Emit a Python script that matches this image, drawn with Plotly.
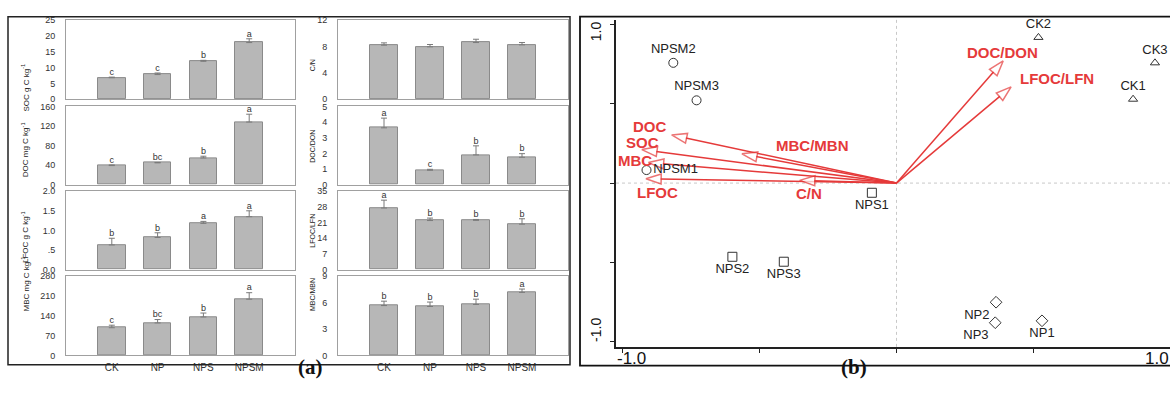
import plotly.graph_objects as go

W, H = 1170, 397

# ---------------- data: panel (a) ----------------
treatments = ["CK", "NP", "NPS", "NPSM"]

soc = [6.8, 7.8, 12.0, 17.9]
soc_err = [0.2, 0.5, 0.3, 1.2]
soc_sig = ["c", "c", "b", "a"]

doc = [39.0, 44.6, 54.6, 128.0]
doc_err = [1.2, 0.8, 3.5, 16.0]
doc_sig = ["c", "bc", "b", "a"]

lfoc = [0.63, 0.82, 1.18, 1.35]
lfoc_err = [0.17, 0.12, 0.05, 0.15]
lfoc_sig = ["b", "b", "a", "a"]

mbc = [98.0, 115.0, 136.0, 199.0]
mbc_err = [9.0, 12.0, 14.0, 23.0]
mbc_sig = ["c", "bc", "b", "a"]

cn = [8.2, 7.95, 8.6, 8.25]
cn_err = [0.35, 0.35, 0.5, 0.35]
cn_sig = None

docdon = [3.63, 0.92, 1.9, 1.75]
docdon_err = [0.62, 0.06, 0.58, 0.23]
docdon_sig = ["a", "c", "b", "b"]

lfoclfn = [27.5, 21.9, 22.0, 20.3]
lfoclfn_err = [3.5, 1.1, 0.4, 2.4]
lfoclfn_sig = ["a", "b", "b", "b"]

mbcmbn = [5.67, 5.57, 5.8, 7.17]
mbcmbn_err = [0.5, 0.5, 0.6, 0.38]
mbcmbn_sig = ["b", "b", "b", "a"]

soc_ticks = [0, 5, 10, 15, 20, 25]
doc_ticks = [0, 40, 80, 120, 160]
lfoc_ticks = [0, 0.5, 1.0, 1.5, 2.0]
lfoc_ticktext = ["0.0", ".5", "1.0", "1.5", "2.0"]
mbc_ticks = [0, 70, 140, 210, 280]
cn_ticks = [0, 4, 8, 12]
docdon_ticks = [0, 1, 2, 3, 4, 5]
lfoclfn_ticks = [0, 7, 14, 21, 28, 35]
mbcmbn_ticks = [0, 3, 6, 9]

# ---------------- data: panel (b) ----------------
samples = ["NPSM1", "NPSM2", "NPSM3", "NPS1", "NPS2", "NPS3",
           "CK1", "CK2", "CK3", "NP1", "NP2", "NP3"]
sample_group = ["NPSM", "NPSM", "NPSM", "NPS", "NPS", "NPS",
                "CK", "CK", "CK", "NP", "NP", "NP"]
sample_x = [-0.914, -0.816, -0.731, -0.090, -0.600, -0.412,
            0.865, 0.519, 0.945, 0.532, 0.364, 0.361]
sample_y = [0.082, 0.757, 0.521, -0.061, -0.464, -0.495,
            0.528, 0.917, 0.757, -0.867, -0.750, -0.879]

env_vars = ["DOC", "SOC", "MBC", "LFOC", "MBC/MBN", "C/N", "DOC/DON", "LFOC/LFN"]
env_x = [-0.822, -0.931, -0.907, -0.916, -0.565, -0.354, 0.390, 0.419]
env_y = [0.303, 0.211, 0.129, 0.027, 0.184, 0.017, 0.769, 0.606]

axis_end_ticks = ["-1.0", "1.0"]

# ---------------- styling ----------------
FONT = "Liberation Sans, Arial, sans-serif"
RED = "#e53a3a"
BAR_FILL = "#b7b7b7"
BAR_LINE = "#8a8a8a"
FRAME = "#a0a0a0"


def px_x(p):
    return p / W


def px_y(p):
    return 1 - p / H


panels = [
    dict(y=soc, e=soc_err, s=soc_sig, t=soc_ticks, tt=None, col=0, row=0,
         title="SOC g C kg<sup>-1</sup>", ty=58),
    dict(y=doc, e=doc_err, s=doc_sig, t=doc_ticks, tt=None, col=0, row=1,
         title="DOC mg C kg<sup>-1</sup>", ty=149),
    dict(y=lfoc, e=lfoc_err, s=lfoc_sig, t=lfoc_ticks, tt=lfoc_ticktext, col=0, row=2,
         title="LFOC g C kg<sup>-1</sup>", ty=238),
    dict(y=mbc, e=mbc_err, s=mbc_sig, t=mbc_ticks, tt=None, col=0, row=3,
         title="MBC mg C kg<sup>-1</sup>", ty=317),
    dict(y=cn, e=cn_err, s=cn_sig, t=cn_ticks, tt=None, col=1, row=0,
         title="C/N", ty=54),
    dict(y=docdon, e=docdon_err, s=docdon_sig, t=docdon_ticks, tt=None, col=1, row=1,
         title="DOC/DON", ty=145),
    dict(y=lfoclfn, e=lfoclfn_err, s=lfoclfn_sig, t=lfoclfn_ticks, tt=None, col=1, row=2,
         title="LFOC/LFN", ty=232),
    dict(y=mbcmbn, e=mbcmbn_err, s=mbcmbn_sig, t=mbcmbn_ticks, tt=None, col=1, row=3,
         title="MBC/MBN", ty=316),
]

col_dom = [(66, 295), (338, 568)]
row_dom = [(15.5, 96.7), (104, 184.3), (191, 271.5), (278.3, 359.5)]
title_x = [18, 307]
title_size = [8, 7]

xpos = list(range(len(treatments)))

fig = go.Figure()
layout = {}
annotations = []
shapes = []

for i, p in enumerate(panels):
    n = i + 1
    sfx = "" if n == 1 else str(n)
    xa, ya = "x" + sfx, "y" + sfx
    fig.add_trace(go.Bar(
        x=xpos, y=p["y"], xaxis=xa, yaxis=ya, width=0.6,
        marker=dict(color=BAR_FILL, line=dict(color=BAR_LINE, width=1)),
        error_y=dict(type="data", array=p["e"], arrayminus=[0] * 4, symmetric=False,
                     color="#7a7a7a", thickness=1, width=3),
        showlegend=False, hoverinfo="skip"))
    if p["s"]:
        tops = [v + e for v, e in zip(p["y"], p["e"])]
        fig.add_trace(go.Scatter(
            x=xpos, y=tops, xaxis=xa, yaxis=ya, mode="text", text=p["s"],
            textposition="top center", textfont=dict(family=FONT, size=9, color="#333"),
            showlegend=False, hoverinfo="skip", cliponaxis=False))
    c0, c1 = col_dom[p["col"]]
    r0, r1 = row_dom[p["row"]]
    layout["xaxis" + sfx] = dict(
        domain=[px_x(c0), px_x(c1)], range=[-1, 4], anchor=ya,
        tickvals=xpos, ticktext=treatments, showticklabels=(p["row"] == 3),
        ticks="", ticklabelstandoff=3,
        tickfont=dict(family=FONT, size=10, color="#333"),
        showline=True, mirror=True, linecolor=FRAME, linewidth=1,
        showgrid=False, zeroline=False, fixedrange=True)
    layout["yaxis" + sfx] = dict(
        domain=[px_y(r1), px_y(r0)], range=[0, p["t"][-1]], anchor=xa,
        tickvals=p["t"], ticktext=p["tt"] if p["tt"] else [str(v) for v in p["t"]],
        ticks="", ticklabelstandoff=8,
        tickfont=dict(family=FONT, size=9, color="#333"),
        showline=True, mirror=True, linecolor=FRAME, linewidth=1,
        showgrid=False, zeroline=False, fixedrange=True)
    annotations.append(dict(
        x=px_x(title_x[p["col"]]), y=px_y(p["ty"]), xref="paper", yref="paper",
        text=p["title"], textangle=-90, showarrow=False,
        font=dict(family=FONT, size=title_size[p["col"]], color="#222")))

# panel (a) frame
shapes.append(dict(type="rect", xref="paper", yref="paper",
                   x0=px_x(8), x1=px_x(570), y0=px_y(369), y1=px_y(12),
                   line=dict(color="#222", width=1.5)))

# ---------------- panel (b) ----------------
BX, BY = "x9", "y9"
layout["xaxis9"] = dict(
    domain=[px_x(616), 1.0], range=[-1.0255, 1.0], anchor=BY,
    tickvals=[-1, -0.5, 0, 0.5, 1], showticklabels=False,
    ticks="outside", ticklen=4, tickcolor="#222", tickwidth=1,
    showline=True, linecolor="#222", linewidth=1.5,
    showgrid=False, zeroline=False, fixedrange=True)
layout["yaxis9"] = dict(
    domain=[px_y(350.7), px_y(15)], range=[-1.031, 1.029], anchor=BX,
    tickvals=[-1, -0.5, 0, 0.5, 1], showticklabels=False,
    ticks="outside", ticklen=4, tickcolor="#222", tickwidth=1,
    showline=True, linecolor="#222", linewidth=1.5,
    showgrid=False, zeroline=False, fixedrange=True)

shapes.append(dict(type="line", xref=BX, yref="y9 domain", x0=0, x1=0, y0=0, y1=1,
                   line=dict(color="#c8c8c8", width=1, dash="dot"), layer="below"))
shapes.append(dict(type="line", xref="x9 domain", yref=BY, x0=0, x1=1, y0=0, y1=0,
                   line=dict(color="#c8c8c8", width=1, dash="dot"), layer="below"))
shapes.append(dict(type="rect", xref="paper", yref="paper",
                   x0=px_x(580), x1=1.01, y0=px_y(370), y1=px_y(12),
                   line=dict(color="#111", width=1.8)))

# arrows
for vx, vy in zip(env_x, env_y):
    fig.add_trace(go.Scatter(
        x=[0, vx], y=[0, vy], xaxis=BX, yaxis=BY, mode="lines+markers",
        line=dict(color=RED, width=1.5),
        marker=dict(symbol=["circle", "arrow"], size=[0, 16], angleref="previous",
                    color="white", line=dict(color=RED, width=1.5)),
        showlegend=False, hoverinfo="skip", cliponaxis=False))

label_dx = [-22, 1, -13, 12, 71, 9, -1, 46]
label_dy = [8, 7, 2, -14, 8, -13, 8, 8]
for name, vx, vy, dx, dy in zip(env_vars, env_x, env_y, label_dx, label_dy):
    annotations.append(dict(
        x=vx, y=vy, xref=BX, yref=BY, text="<b>%s</b>" % name, showarrow=False,
        xshift=dx, yshift=dy,
        font=dict(family=FONT, size=15, color=RED)))

# samples
group_symbol = {"NPSM": "circle-open", "NPS": "square-open",
                "CK": "triangle-up-open", "NP": "diamond-open"}
group_size = {"NPSM": 9, "NPS": 9, "CK": 8, "NP": 9}
text_pos = {"NPSM1": "middle right", "NPSM2": "top center", "NPSM3": "top center",
            "NPS1": "bottom center", "NPS2": "bottom center", "NPS3": "bottom center",
            "CK1": "top center", "CK2": "top center", "CK3": "top center",
            "NP1": "bottom center", "NP2": "bottom left", "NP3": "bottom left"}
for g in ["NPSM", "NPS", "CK", "NP"]:
    idx = [k for k, s in enumerate(sample_group) if s == g]
    fig.add_trace(go.Scatter(
        x=[sample_x[k] for k in idx], y=[sample_y[k] for k in idx],
        xaxis=BX, yaxis=BY, mode="markers+text",
        text=[samples[k] for k in idx],
        textposition=[text_pos[samples[k]] for k in idx],
        textfont=dict(family=FONT, size=13, color="#222"),
        marker=dict(symbol=group_symbol[g], size=group_size[g],
                    color="#333", line=dict(width=1)),
        showlegend=False, hoverinfo="skip", cliponaxis=False))

# axis end labels of panel (b)
annotations += [
    dict(x=-1, y=px_y(363), xref=BX, yref="paper", text=axis_end_ticks[0],
         showarrow=False, xanchor="left", yanchor="middle", xshift=-8,
         font=dict(family=FONT, size=17, color="#111")),
    dict(x=1, y=px_y(363), xref=BX, yref="paper", text=axis_end_ticks[1],
         showarrow=False, xanchor="left", yanchor="middle", xshift=-27,
         font=dict(family=FONT, size=17, color="#111")),
    dict(x=px_x(596), y=1, xref="paper", yref=BY, text=axis_end_ticks[1],
         showarrow=False, textangle=-90, xanchor="center", yanchor="top", yshift=5,
         font=dict(family=FONT, size=14, color="#111")),
    dict(x=px_x(596), y=-1, xref="paper", yref=BY, text=axis_end_ticks[0],
         showarrow=False, textangle=-90, xanchor="center", yanchor="bottom", yshift=-2,
         font=dict(family=FONT, size=14, color="#111")),
]

# panel tags
annotations += [
    dict(x=px_x(296), y=px_y(386), xref="paper", yref="paper", text="<b>(a)</b>",
         showarrow=False, font=dict(family="Liberation Serif, Times New Roman, serif",
                                    size=21, color="#111")),
    dict(x=px_x(869), y=px_y(386), xref="paper", yref="paper", text="<b>(b)</b>",
         showarrow=False, font=dict(family="Liberation Serif, Times New Roman, serif",
                                    size=21, color="#111")),
]

fig.update_layout(
    width=W, height=H, margin=dict(l=0, r=0, t=0, b=0),
    paper_bgcolor="white", plot_bgcolor="rgba(0,0,0,0)",
    bargap=0, showlegend=False,
    annotations=annotations, shapes=shapes, **layout)

fig.write_html("out.html")
